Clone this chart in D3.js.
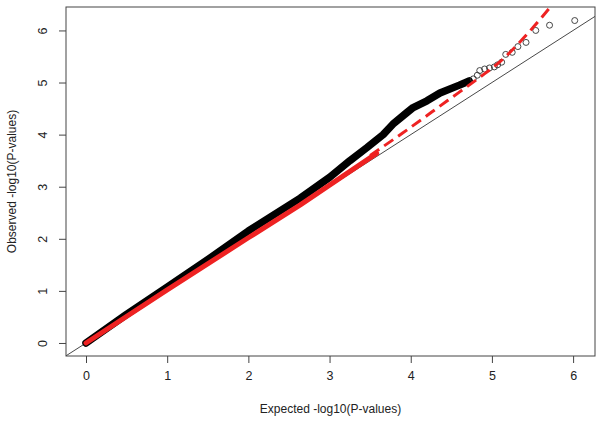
<!DOCTYPE html>
<html><head><meta charset="utf-8">
<script src="https://cdn.jsdelivr.net/npm/d3@7"></script>
<style>body{margin:0;background:#fff}svg{display:block}text{font-family:"Liberation Sans",Arial,sans-serif;fill:#222}</style>
</head><body><svg id="c" width="600" height="421"></svg>
<script>
// ---- data ----
const xTicks = [0, 1, 2, 3, 4, 5, 6];
const yTicks = [0, 1, 2, 3, 4, 5, 6];
// dense observed band (expected, observed)
const bandX = [0, 0.5, 1, 1.5, 2, 2.64, 3.0, 3.25, 3.46, 3.66, 3.78, 3.95, 4.03, 4.2, 4.36, 4.6, 4.72];
const bandY = [0, 0.55, 1.07, 1.6, 2.15, 2.78, 3.18, 3.5, 3.75, 4.0, 4.2, 4.42, 4.52, 4.65, 4.8, 4.95, 5.03];
// sparse top points
const topX = [4.77, 4.82, 4.85, 4.91, 4.97, 5.03, 5.07, 5.12, 5.17, 5.25, 5.32, 5.42, 5.54, 5.71, 6.02];
const topY = [5.07, 5.14, 5.23, 5.26, 5.28, 5.3, 5.34, 5.39, 5.54, 5.58, 5.69, 5.77, 6.0, 6.1, 6.19];
// red band (solid) and red dashed curve
const redX = [0, 1, 2, 2.64, 3.0, 3.58];
const redY = [0, 1.02, 2.02, 2.65, 3.03, 3.64];
const dashX = [3.5, 3.9, 4.45, 4.85, 5.1, 5.44, 5.72];
const dashY = [3.6, 4.03, 4.65, 5.1, 5.4, 5.94, 6.45];

const L = 66, R = 595, T = 7, B = 356;
const svg = d3.select("#c");
const x = d3.scaleLinear().domain([-0.2464, 6.2697]).range([L, R]);
const y = d3.scaleLinear().domain([-0.25, 6.45]).range([B, T]);

svg.append("clipPath").attr("id", "clip").append("rect")
  .attr("x", L).attr("y", T).attr("width", R - L).attr("height", B - T);
const g = svg.append("g").attr("clip-path", "url(#clip)");

// diagonal reference line
g.append("line")
  .attr("x1", x(-1)).attr("y1", y(-1)).attr("x2", x(8)).attr("y2", y(8))
  .attr("stroke", "#333").attr("stroke-width", 0.9);

const line = d3.line().x(d => x(d[0])).y(d => y(d[1]));
const band = bandX.map((v, i) => [v, bandY[i]]);
g.append("path").attr("d", line(band)).attr("fill", "none")
  .attr("stroke", "#000").attr("stroke-width", 7.5)
  .attr("stroke-linecap", "round").attr("stroke-linejoin", "round");

g.selectAll("circle.top").data(topX.map((v, i) => [v, topY[i]])).join("circle")
  .attr("class", "top").attr("cx", d => x(d[0])).attr("cy", d => y(d[1])).attr("r", 3)
  .attr("fill", "none").attr("stroke", "#333").attr("stroke-width", 0.9);

const red = redX.map((v, i) => [v, redY[i]]);
g.append("path").attr("d", line(red)).attr("fill", "none")
  .attr("stroke", "#ee2222").attr("stroke-width", 5)
  .attr("stroke-linecap", "round").attr("stroke-linejoin", "round");

const dash = dashX.map((v, i) => [v, dashY[i]]);
g.append("path").attr("d", d3.line().curve(d3.curveMonotoneX).x(d => x(d[0])).y(d => y(d[1]))(dash))
  .attr("fill", "none").attr("stroke", "#ee2222").attr("stroke-width", 3)
  .attr("stroke-dasharray", "11,6");

// box
svg.append("rect").attr("x", L).attr("y", T).attr("width", R - L).attr("height", B - T)
  .attr("fill", "none").attr("stroke", "#444").attr("stroke-width", 1);

// axes
const ax = svg.append("g").attr("transform", `translate(0,${B})`)
  .call(d3.axisBottom(x).tickValues(xTicks).tickSize(7).tickPadding(8).tickFormat(d3.format("d")));
const ay = svg.append("g").attr("transform", `translate(${L},0)`)
  .call(d3.axisLeft(y).tickValues(yTicks).tickSize(7).tickPadding(8).tickFormat(d3.format("d")));
[ax, ay].forEach(a => {
  a.select(".domain").remove();
  a.selectAll("line").attr("stroke", "#444");
  a.selectAll("text").attr("font-size", 12.5).attr("fill", "#222")
    .attr("font-family", "'Liberation Sans', Arial, sans-serif");
});
ay.selectAll(".tick text").attr("text-anchor", "middle").attr("dy", null)
  .attr("transform", "translate(-23,0) rotate(-90)").attr("x", 0).attr("y", 0)
  .attr("dominant-baseline", "central");

svg.append("text").attr("x", (L + R) / 2).attr("y", 413).attr("text-anchor", "middle")
  .attr("font-size", 12).text("Expected -log10(P-values)");
svg.append("text").attr("transform", `translate(16,${(T + B) / 2}) rotate(-90)`)
  .attr("text-anchor", "middle").attr("font-size", 12).text("Observed -log10(P-values)");
</script></body></html>
